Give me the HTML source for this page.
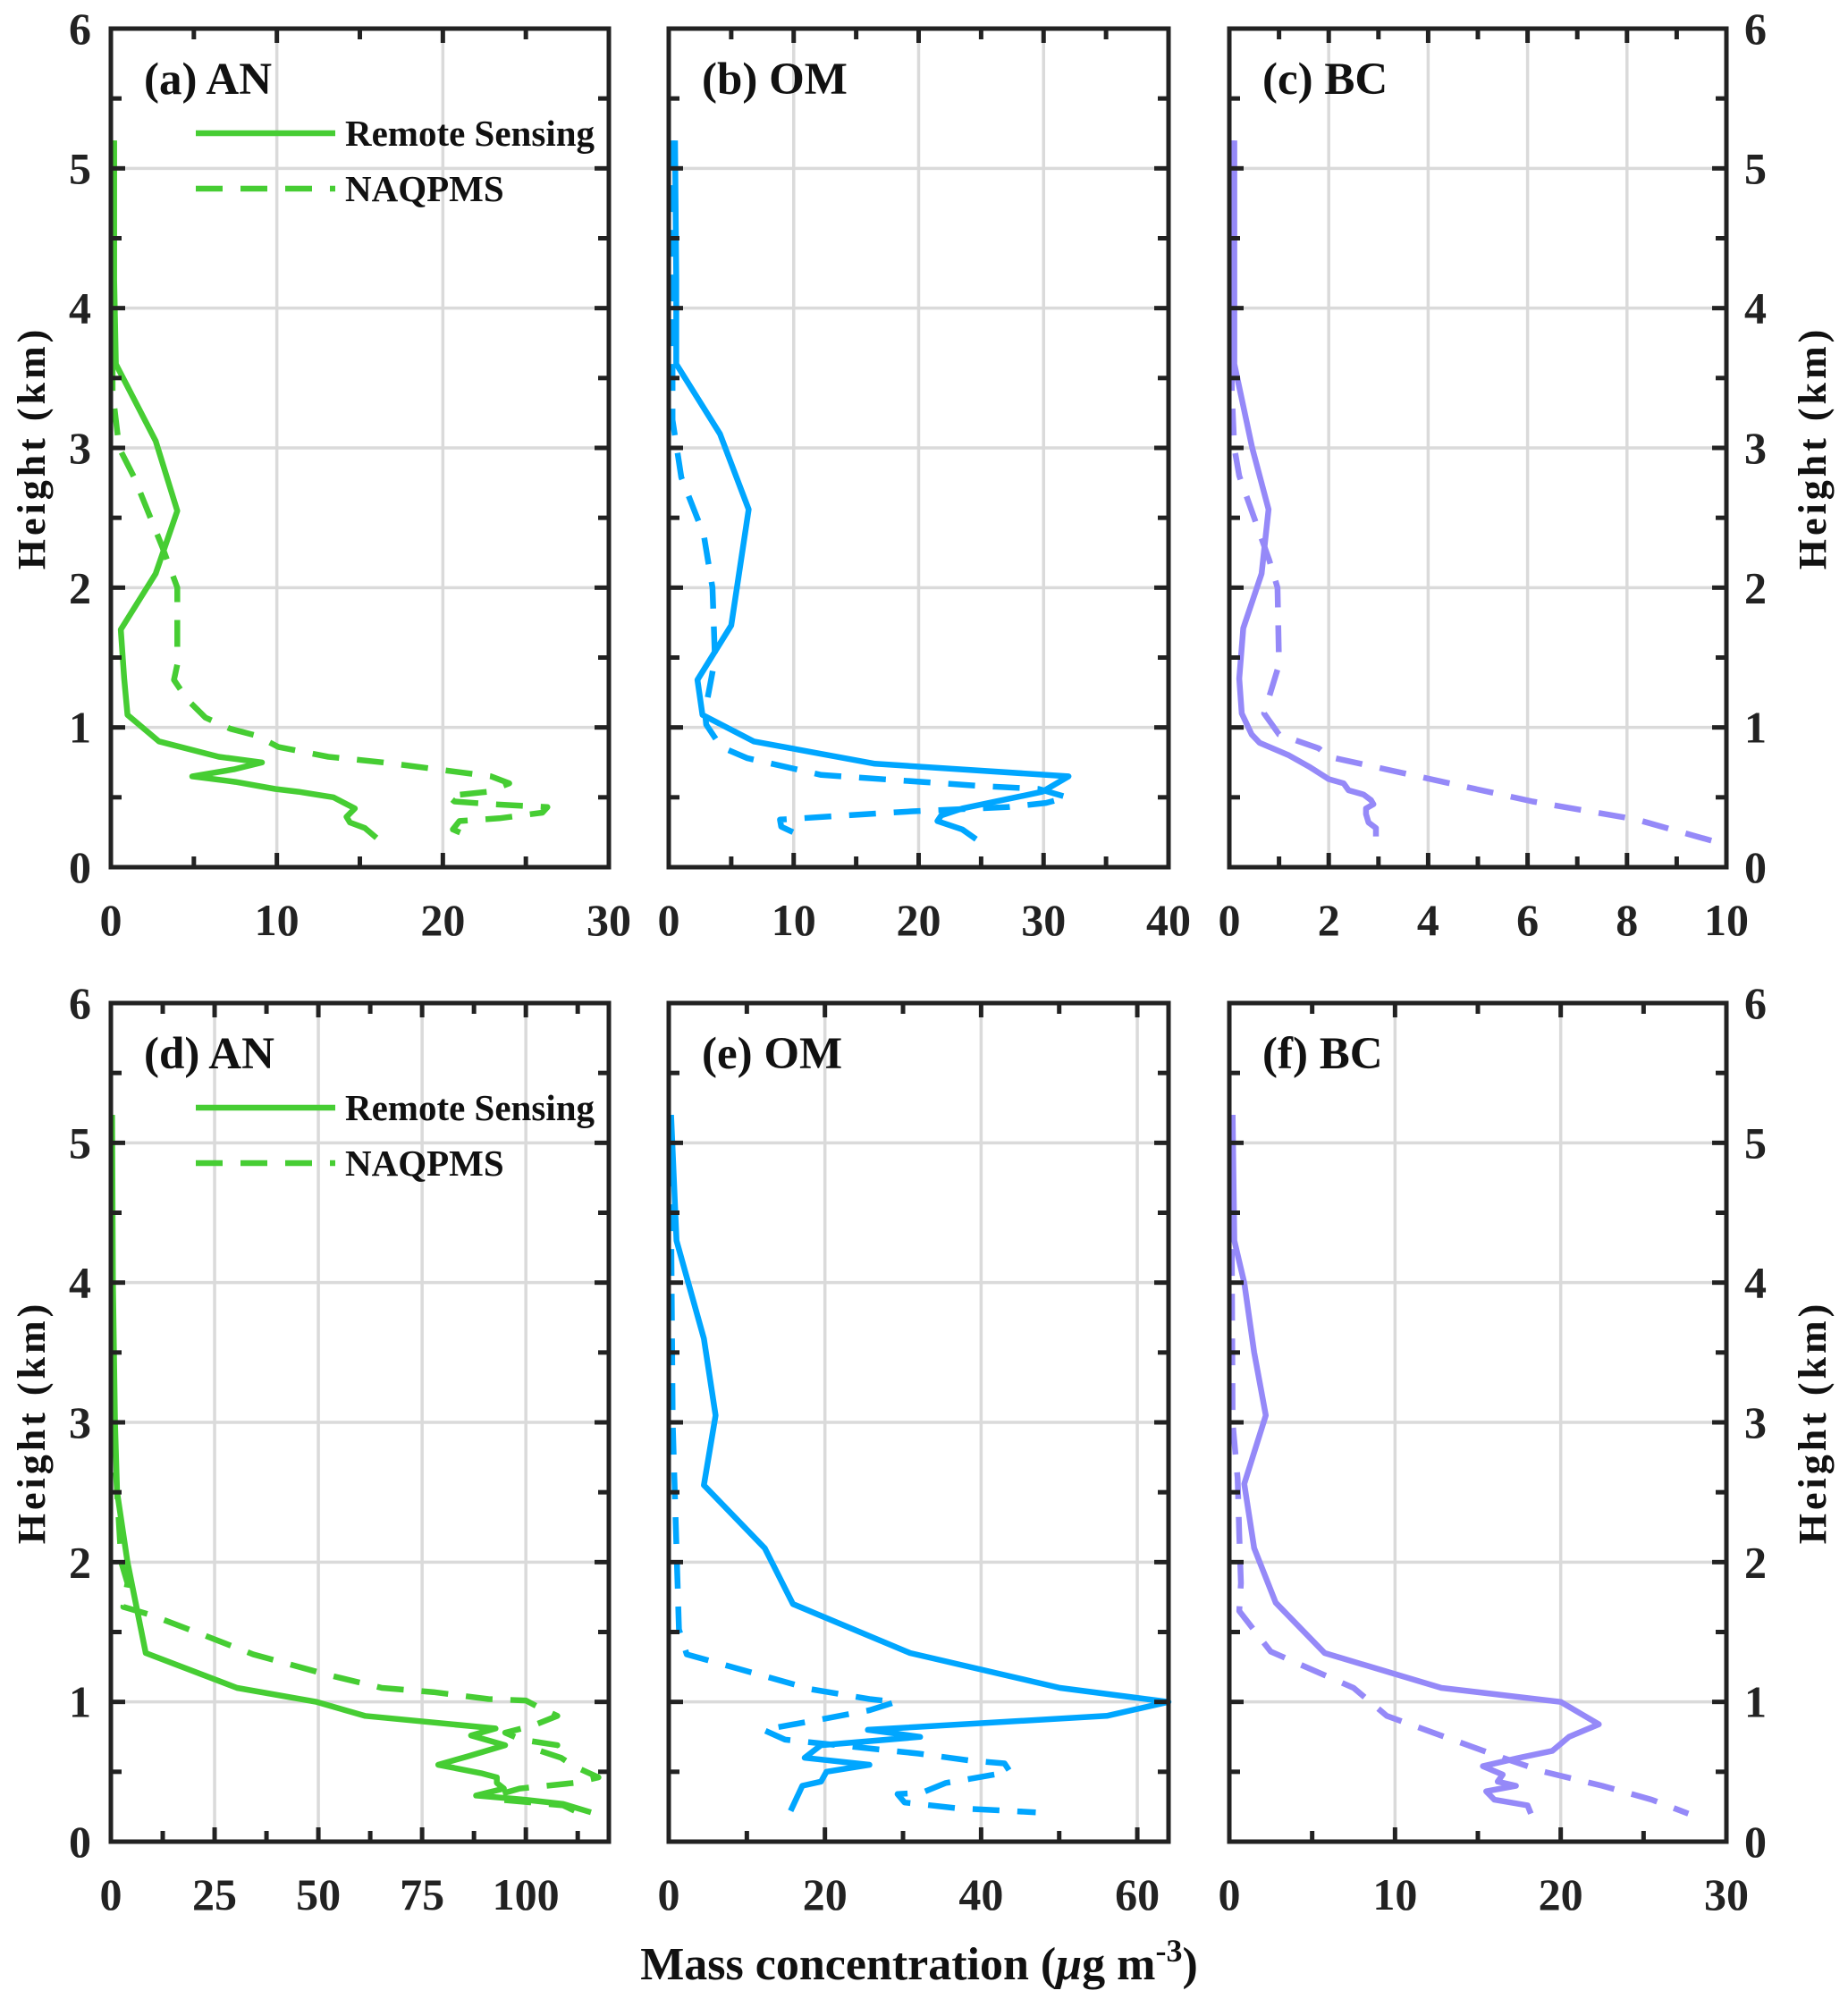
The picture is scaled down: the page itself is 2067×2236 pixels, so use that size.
<!DOCTYPE html>
<html><head><meta charset="utf-8"><style>
html,body{margin:0;padding:0;background:#fff;}
svg{display:block;font-family:"Liberation Serif","DejaVu Serif",serif;font-weight:bold;}
</style></head><body>
<svg id="fig" width="2067" height="2236" viewBox="0 0 2067 2236" xmlns="http://www.w3.org/2000/svg"></svg>
<script>
// ---- data (x = mass concentration, h = height km) ----
const aRsX=[0.2,0.2,0.3,2.7,4.0,2.7,0.6,0.8,1.0,2.9,6.5,9.1,7.4,4.9,7.5,9.9,11.3,13.4,14.7,14.2,14.4,15.3,16.0];
const aRsH=[5.2,4.2,3.6,3.05,2.55,2.1,1.7,1.35,1.09,0.9,0.79,0.75,0.70,0.65,0.61,0.56,0.54,0.5,0.42,0.36,0.32,0.28,0.21];
const aNqX=[0.1,0.1,0.5,1.4,3.1,4.0,4.0,3.8,4.6,5.7,7.2,8.8,10.1,13.1,16.4,19.7,22.9,24.0,22.7,20.3,20.7,23.0,26.3,26.0,23.4,21.0,20.6,22.0];
const aNqH=[5.2,3.4,3.0,2.79,2.29,2.0,1.45,1.34,1.2,1.07,0.99,0.94,0.86,0.79,0.75,0.70,0.65,0.60,0.54,0.51,0.47,0.45,0.43,0.39,0.35,0.33,0.27,0.20];
const bRsX=[0.5,0.6,0.6,4.1,6.4,5.0,2.3,2.7,6.8,16.5,32.0,29.9,23.5,21.8,21.5,23.5,24.6];
const bRsH=[5.2,4.2,3.6,3.1,2.56,1.73,1.34,1.09,0.9,0.74,0.65,0.54,0.42,0.37,0.33,0.27,0.2];
const bNqX=[0.3,0.3,0.3,1.0,2.8,3.5,3.7,2.9,3.0,4.2,6.3,12.2,25.1,29.6,31.9,30.2,27.1,19.5,14.1,8.9,9.0,10.2,10.0];
const bNqH=[5.2,3.6,3.2,2.79,2.38,2.0,1.49,1.11,1.02,0.86,0.78,0.66,0.58,0.56,0.5,0.46,0.43,0.4,0.37,0.34,0.29,0.24,0.21];
const cRsX=[0.1,0.1,0.46,0.79,0.65,0.28,0.2,0.25,0.45,0.61,1.2,1.6,2.0,2.3,2.4,2.7,2.85,2.9,2.75,2.75,2.8,2.95,2.95];
const cRsH=[5.2,3.6,3.0,2.56,2.1,1.71,1.35,1.1,0.95,0.89,0.8,0.72,0.63,0.6,0.55,0.52,0.48,0.45,0.42,0.38,0.32,0.28,0.22];
const cNqX=[0.05,0.05,0.1,0.2,0.5,0.8,0.97,1.0,0.7,1.0,1.8,2.0,6.1,8.2,9.7];
const cNqH=[5.2,3.4,3.0,2.8,2.5,2.2,2.0,1.45,1.1,0.95,0.85,0.79,0.47,0.34,0.19];
const dRsX=[0.3,0.5,1.0,1.5,4.0,8.4,30.4,49.6,61.2,92.7,86.8,95.0,86.0,78.9,89.2,93.0,93.0,94.7,88.0,99.8,109.0,115.7];
const dRsH=[5.2,4.0,3.0,2.5,2.0,1.35,1.1,1.0,0.9,0.81,0.76,0.69,0.61,0.55,0.49,0.46,0.42,0.38,0.33,0.3,0.27,0.21];
const dNqX=[0.2,0.5,2.5,4.0,3.0,9.8,22.2,34.3,52.8,65.3,77.7,91.0,100.0,102.6,107.6,101.7,95.0,98.9,107.6,103.4,108.5,111.6,117.5,111.6,98.5,92.7,94.0,109.0,112.5];
const dNqH=[5.2,3.0,2.0,1.85,1.68,1.62,1.48,1.34,1.19,1.1,1.07,1.02,1.01,0.97,0.9,0.83,0.78,0.73,0.69,0.65,0.6,0.54,0.46,0.42,0.38,0.33,0.3,0.26,0.21];
const eRsX=[0.3,1.0,4.5,6.0,4.5,12.3,15.9,30.9,50.1,64.0,56.1,25.5,32.2,19.5,17.4,25.7,20.2,19.5,17.1,15.6];
const eRsH=[5.2,4.3,3.6,3.05,2.55,2.1,1.7,1.35,1.1,1.0,0.9,0.8,0.75,0.69,0.6,0.55,0.5,0.43,0.4,0.22];
const eNqX=[0.2,0.5,1.3,2.3,18.3,25.7,29.1,25.7,19.0,12.1,14.9,32.0,38.6,43.0,43.7,38.6,35.5,32.4,29.3,30.2,36.8,47.0];
const eNqH=[5.2,3.0,1.52,1.34,1.09,1.02,1.0,0.94,0.87,0.8,0.73,0.63,0.58,0.56,0.5,0.45,0.42,0.35,0.34,0.28,0.24,0.21];
const fRsX=[0.2,0.3,0.9,1.5,2.2,0.9,1.5,2.8,5.75,12.8,20.0,22.3,20.5,19.5,17.5,15.3,16.5,16.2,17.3,15.5,16.0,18.0,18.2];
const fRsH=[5.2,4.3,4.0,3.5,3.05,2.56,2.1,1.71,1.35,1.1,1.0,0.84,0.75,0.65,0.6,0.54,0.48,0.43,0.4,0.36,0.3,0.26,0.2];
const fNqX=[0.1,0.15,0.2,0.5,0.6,0.7,0.6,2.5,7.5,9.5,13.0,16.5,19.0,22.5,25.5,27.7];
const fNqH=[5.2,4.2,3.0,2.6,2.2,1.85,1.65,1.36,1.1,0.9,0.75,0.6,0.5,0.4,0.3,0.2];
const aTicks=[0,10,20,30], bTicks=[0,10,20,30,40], cTicks=[0,2,4,6,8,10];
const dTicks=[0,25,50,75,100], eTicks=[0,20,40,60], fTicks=[0,10,20,30];
const yTicks=[0,1,2,3,4,5,6];

const NS="http://www.w3.org/2000/svg";
const svg=document.getElementById('fig');
function mk(tag,attrs,parent){const e=document.createElementNS(NS,tag);for(const k in attrs)e.setAttribute(k,attrs[k]);(parent||svg).appendChild(e);return e;}

const GREEN="#46cd33", BLUE="#00a6ff", PURPLE="#9589f8";
const panels=[
 {id:'a',lab:'(a) AN',L:124,R:681,T:32,B:970,xmax:30,ticks:aTicks,minor:5,rsX:aRsX,rsH:aRsH,nqX:aNqX,nqH:aNqH,col:GREEN,legend:true,yl:true},
 {id:'b',lab:'(b) OM',L:748,R:1307,T:32,B:970,xmax:40,ticks:bTicks,minor:5,rsX:bRsX,rsH:bRsH,nqX:bNqX,nqH:bNqH,col:BLUE},
 {id:'c',lab:'(c) BC',L:1375,R:1931,T:32,B:970,xmax:10,ticks:cTicks,minor:1,rsX:cRsX,rsH:cRsH,nqX:cNqX,nqH:cNqH,col:PURPLE,yr:true},
 {id:'d',lab:'(d) AN',L:124,R:681,T:1122,B:2060,xmax:120,ticks:dTicks,minor:12.5,rsX:dRsX,rsH:dRsH,nqX:dNqX,nqH:dNqH,col:GREEN,legend:true,yl:true},
 {id:'e',lab:'(e) OM',L:748,R:1307,T:1122,B:2060,xmax:64,ticks:eTicks,minor:10,rsX:eRsX,rsH:eRsH,nqX:eNqX,nqH:eNqH,col:BLUE},
 {id:'f',lab:'(f) BC',L:1375,R:1931,T:1122,B:2060,xmax:30,ticks:fTicks,minor:5,rsX:fRsX,rsH:fRsH,nqX:fNqX,nqH:fNqH,col:PURPLE,yr:true}
];

panels.forEach(p=>{
  const g=mk('g',{});
  
  
  const sx=v=>p.L+(v/p.xmax)*(p.R-p.L);
  const sy=h=>p.B-(h/6)*(p.B-p.T);
  p.ticks.forEach(t=>{ if(t>0&&t<p.xmax){const l=mk('line',{x1:sx(t),x2:sx(t),y1:p.T,y2:p.B,stroke:'#dadada','stroke-width':3.5},g);
    }});
  yTicks.forEach(t=>{ if(t>0&&t<6){const l=mk('line',{x1:p.L,x2:p.R,y1:sy(t),y2:sy(t),stroke:'#dadada','stroke-width':3.5},g);
    }});
  function path(xs,hs,dash,name){
    let d='';xs.forEach((v,i)=>{d+=(i?'L':'M')+sx(v).toFixed(1)+','+sy(hs[i]).toFixed(1);});
    const pa=mk('path',{d:d,fill:'none',stroke:p.col,'stroke-width':6.5,'stroke-linejoin':'round','stroke-linecap':'butt'},g);
    if(dash)pa.setAttribute('stroke-dasharray','30,20');
    
    
  }
  path(p.nqX,p.nqH,true,'naqpms-line-'+p.id);
  path(p.rsX,p.rsH,false,'remote-sensing-line-'+p.id);
  const tk=mk('g',{stroke:'#222','stroke-width':5},g);
  for(let v=0;v<=p.xmax+1e-6;v+=p.minor){
    const isMaj=p.ticks.some(t=>Math.abs(t-v)<1e-6);
    const len=isMaj?16:12;
    mk('line',{x1:sx(v),x2:sx(v),y1:p.B,y2:p.B-len},tk);
    mk('line',{x1:sx(v),x2:sx(v),y1:p.T,y2:p.T+len},tk);
  }
  for(let h=0;h<=6;h+=0.5){
    const len=(h%1===0)?16:12;
    mk('line',{x1:p.L,x2:p.L+len,y1:sy(h),y2:sy(h)},tk);
    mk('line',{x1:p.R,x2:p.R-len,y1:sy(h),y2:sy(h)},tk);
  }
  const box=mk('rect',{x:p.L,y:p.T,width:p.R-p.L,height:p.B-p.T,fill:'none',stroke:'#222','stroke-width':5},g);
  
  p.ticks.forEach(t=>{const tx=mk('text',{x:sx(t),y:p.B+76,'text-anchor':'middle','font-size':50,fill:'#222'},g);tx.textContent=t;
    });
  yTicks.forEach(t=>{
    if(p.yl){const tx=mk('text',{x:p.L-22,y:sy(t)+17,'text-anchor':'end','font-size':50,fill:'#222'},g);tx.textContent=t;
      }
    if(p.yr){const tx=mk('text',{x:p.R+20,y:sy(t)+17,'text-anchor':'start','font-size':50,fill:'#222'},g);tx.textContent=t;
      }
  });
  const pl=mk('text',{x:p.L+37,y:p.T+73,'font-size':51,fill:'#111'},g);pl.textContent=p.lab;
  
  if(p.legend){
    const lg=mk('g',{},g);
    
    const y1=p.T+117,y2=p.T+179;
    mk('line',{x1:219,x2:375,y1:y1,y2:y1,stroke:p.col,'stroke-width':6.5},lg);
    mk('line',{x1:219,x2:375,y1:y2,y2:y2,stroke:p.col,'stroke-width':6.5,'stroke-dasharray':'30,20'},lg);
    const t1=mk('text',{x:386,y:y1+14,'font-size':41,fill:'#111'},lg);t1.textContent='Remote Sensing';
    
    const t2=mk('text',{x:386,y:y2+14,'font-size':41,fill:'#111'},lg);t2.textContent='NAQPMS';
    
  }
});
[[501],[1591]].forEach(([cy],i)=>{
  const l=mk('text',{x:0,y:0,transform:`translate(50,${cy}) rotate(-90)`,'text-anchor':'middle','font-size':44,'letter-spacing':4,fill:'#111'});
  l.textContent='Height (km)';
  
  
  const r=mk('text',{x:0,y:0,transform:`translate(2042,${cy}) rotate(-90)`,'text-anchor':'middle','font-size':44,'letter-spacing':4,fill:'#111'});
  r.textContent='Height (km)';
  
  
});
const xt=mk('text',{x:1028,y:2214,'text-anchor':'middle','font-size':52,fill:'#111'});


xt.innerHTML='Mass concentration (<tspan font-style="italic">μ</tspan>g m<tspan dy="-20" font-size="36">-3</tspan><tspan dy="20">)</tspan>';
</script>
</body></html>
